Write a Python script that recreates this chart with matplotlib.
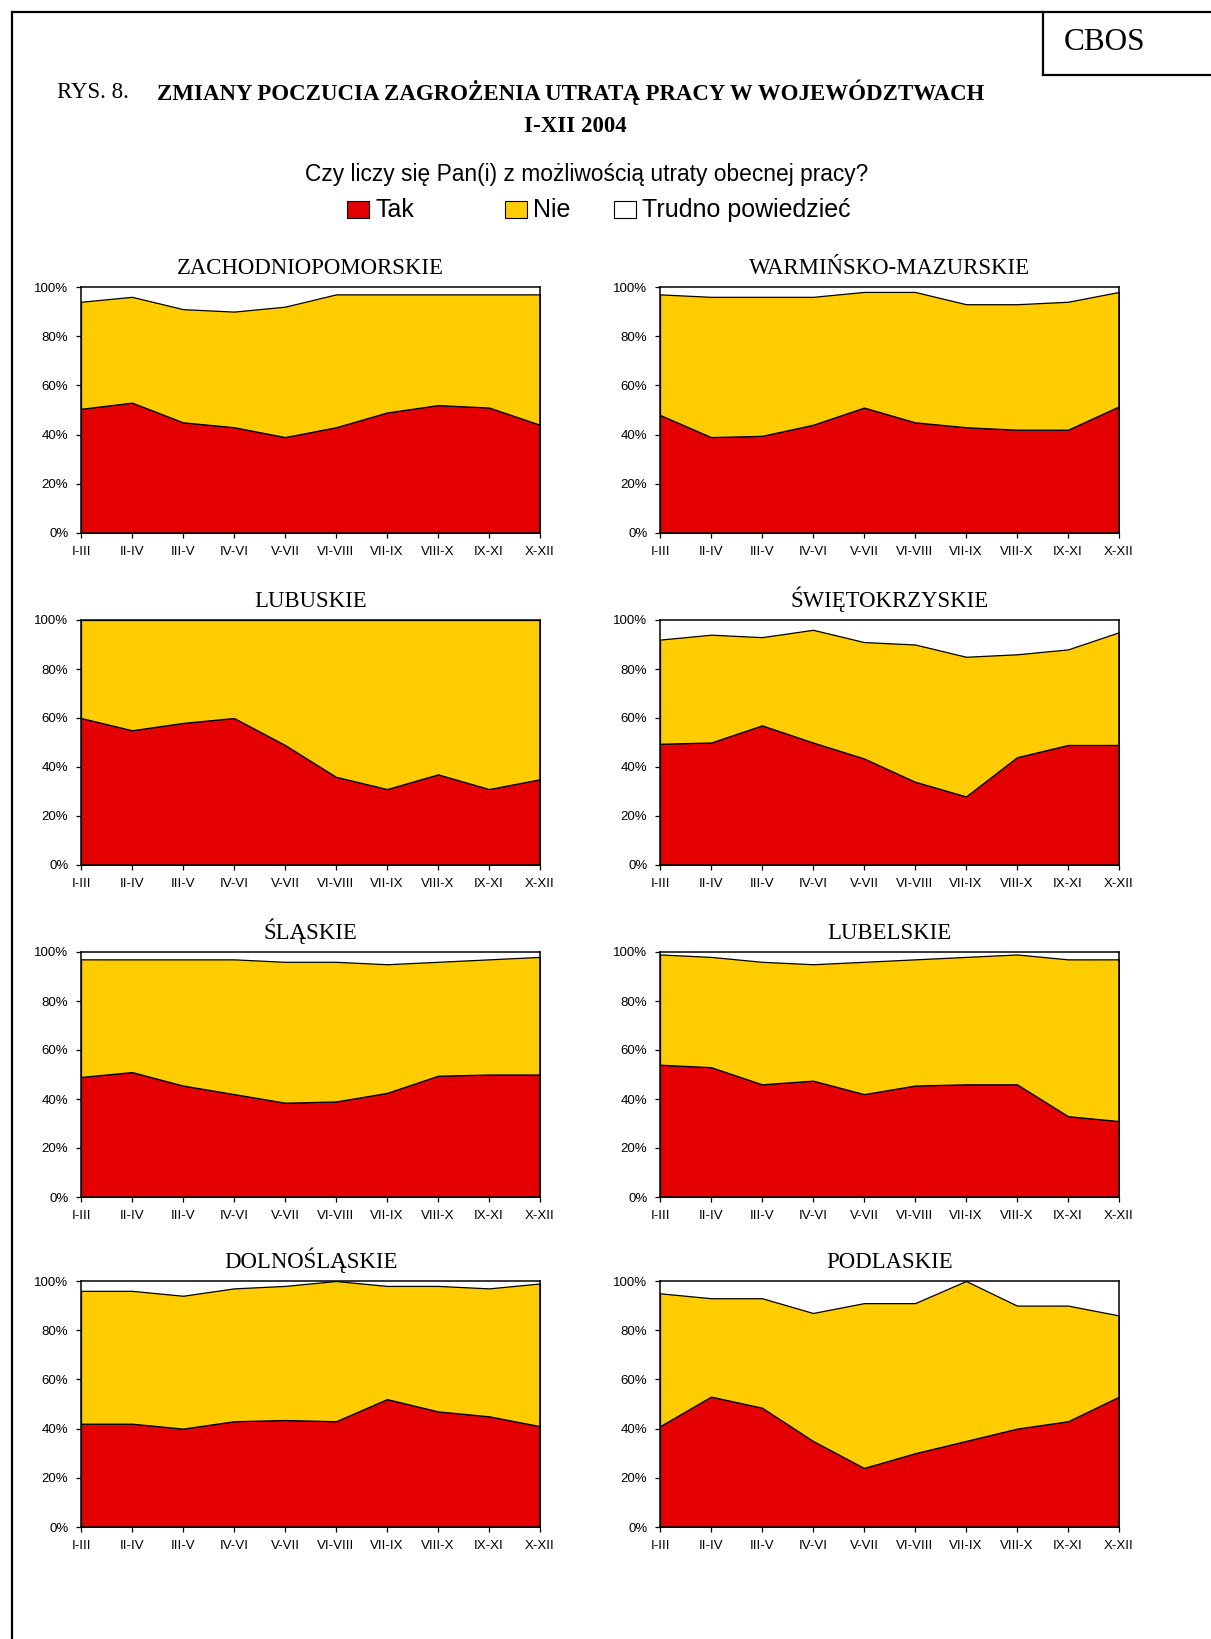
import matplotlib
matplotlib.use("Agg")
import matplotlib.pyplot as plt
from matplotlib.patches import Rectangle
from matplotlib.lines import Line2D
import numpy as np

W, H = 1211, 1639
SERIF = "Liberation Serif"
SANS = "Liberation Sans"
RED = "#E40000"
YELLOW = "#FFCC00"

periods = ["I-III", "II-IV", "III-V", "IV-VI", "V-VII", "VI-VIII",
           "VII-IX", "VIII-X", "IX-XI", "X-XII"]
legend_labels = ["Tak", "Nie", "Trudno powiedzieć"]

regions = ["ZACHODNIOPOMORSKIE", "WARMIŃSKO-MAZURSKIE", "LUBUSKIE",
           "ŚWIĘTOKRZYSKIE", "ŚLĄSKIE", "LUBELSKIE", "DOLNOŚLĄSKIE", "PODLASKIE"]

# odsetki "Tak" i "Nie" (reszta do 100% = trudno powiedziec)
tak_zach = [50.5, 53, 45, 43, 39, 43, 49, 52, 51, 44]
nie_zach = [43.5, 43, 46, 47, 53, 54, 48, 45, 46, 53]
tak_warm = [48, 39, 39.5, 44, 51, 45, 43, 42, 42, 51.5]
nie_warm = [49, 57, 56.5, 52, 47, 53, 50, 51, 52, 46.5]
tak_lubu = [60, 55, 58, 60, 49, 36, 31, 37, 31, 35]
nie_lubu = [40, 45, 42, 40, 51, 64, 69, 63, 69, 65]
tak_swie = [49.5, 50, 57, 50, 43.5, 34, 28, 44, 49, 49]
nie_swie = [42.5, 44, 36, 46, 47.5, 56, 57, 42, 39, 46]
tak_slas = [49, 51, 45.5, 42, 38.5, 39, 42.5, 49.5, 50, 50]
nie_slas = [48, 46, 51.5, 55, 57.5, 57, 52.5, 46.5, 47, 48]
tak_lube = [54, 53, 46, 47.5, 42, 45.5, 46, 46, 33, 31]
nie_lube = [45, 45, 50, 47.5, 54, 51.5, 52, 53, 64, 66]
tak_doln = [42, 42, 40, 43, 43.5, 43, 52, 47, 45, 41]
nie_doln = [54, 54, 54, 54, 54.5, 57, 46, 51, 52, 58]
tak_podl = [41, 53, 48.5, 35, 24, 30, 35, 40, 43, 53]
nie_podl = [54, 40, 44.5, 52, 67, 61, 65, 50, 47, 33]

tak_all = [tak_zach, tak_warm, tak_lubu, tak_swie, tak_slas, tak_lube, tak_doln, tak_podl]
nie_all = [nie_zach, nie_warm, nie_lubu, nie_swie, nie_slas, nie_lube, nie_doln, nie_podl]

fig = plt.figure(figsize=(W / 100, H / 100), dpi=100)

def fx(px):
    return px / W

def fy(py):
    return 1 - py / H

# ramka strony
fig.add_artist(Line2D([fx(12), fx(12)], [fy(12), 0], color="black", lw=1.6))
fig.add_artist(Line2D([fx(12), 1], [fy(12), fy(12)], color="black", lw=1.6))
fig.add_artist(Line2D([fx(1043), fx(1043)], [fy(12), fy(75)], color="black", lw=1.6))
fig.add_artist(Line2D([fx(1043), 1], [fy(75), fy(75)], color="black", lw=1.6))
fig.text(fx(1105), fy(43), "CBOS", family=SERIF, fontsize=22.5, ha="center", va="center")

fig.text(fx(57), fy(92), "RYS. 8.", family=SERIF, fontsize=16.5, ha="left", va="center")
fig.text(fx(157), fy(92), "ZMIANY POCZUCIA ZAGROŻENIA UTRATĄ PRACY W WOJEWÓDZTWACH",
         family=SERIF, fontsize=16.5, weight="bold", ha="left", va="center")
fig.text(fx(575), fy(126), "I-XII 2004", family=SERIF, fontsize=16.5, weight="bold",
         ha="center", va="center")
fig.text(fx(587), fy(174), "Czy liczy się Pan(i) z możliwością utraty obecnej pracy?",
         family=SANS, fontsize=16.4, ha="center", va="center")

# legenda
leg_x = [347, 505, 614]
for lx, lab, col in zip(leg_x, legend_labels, [RED, YELLOW, "white"]):
    fig.add_artist(Rectangle((fx(lx), fy(218)), 22 / W, 17 / H, transform=fig.transFigure,
                             facecolor=col, edgecolor="black", lw=0.8))
    fig.text(fx(lx + 28), fy(210), lab, family=SANS, fontsize=18, ha="left", va="center")

col_x = [81, 660]
row_y = [(287, 533), (620, 865), (952, 1197), (1281, 1527)]
x = np.arange(len(periods))

for i, name in enumerate(regions):
    r, c = divmod(i, 2)
    top, bot = row_y[r]
    ax = fig.add_axes([fx(col_x[c]), fy(bot), 459 / W, (bot - top) / H])
    ax.stackplot(x, tak_all[i], nie_all[i], colors=[RED, YELLOW],
                 edgecolor="black", linewidth=0.9)
    ax.set_xlim(0, len(periods) - 1)
    ax.set_ylim(0, 100)
    ax.set_yticks(range(0, 101, 20))
    ax.set_yticklabels([f"{v}%" for v in range(0, 101, 20)])
    ax.set_xticks(x)
    ax.set_xticklabels(periods)
    for lab in ax.get_xticklabels() + ax.get_yticklabels():
        lab.set_family(SANS)
        lab.set_fontsize(9.5)
    ax.tick_params(direction="out", length=3.6, width=0.9, pad=5.5, colors="black")
    for s in ax.spines.values():
        s.set_linewidth(1.1)
    ax.set_title(name, family=SERIF, fontsize=16.4, pad=9.5)

fig.savefig("out.png", dpi=100)
